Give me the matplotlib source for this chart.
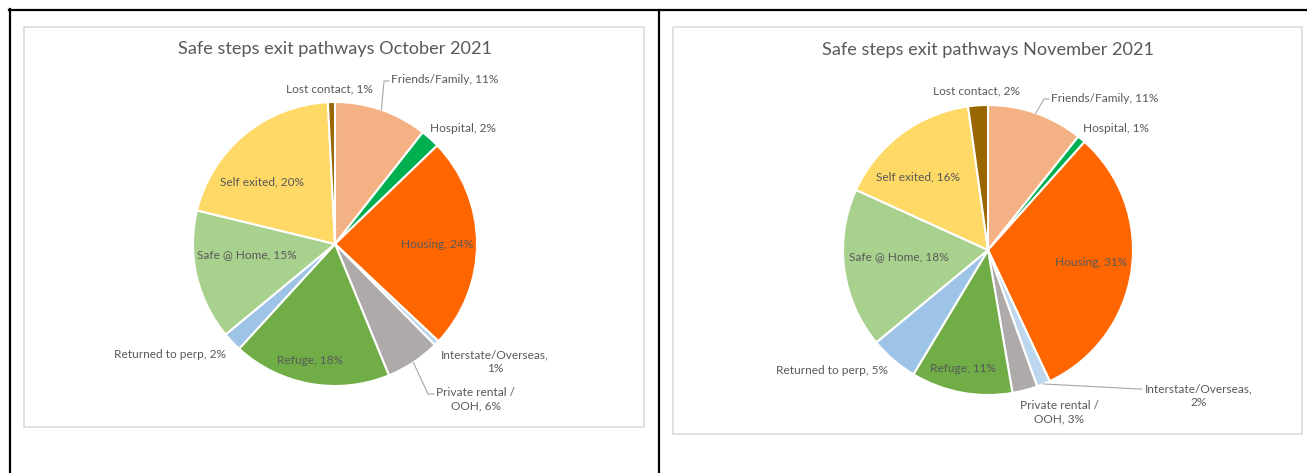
import numpy as np
import matplotlib
matplotlib.use("Agg")
import matplotlib.pyplot as plt
from matplotlib.patches import Rectangle

W, H = 1307, 473          # output size in pixels (dpi 100)

# ---- data (shares in %) ----
categories = ["Friends/Family", "Hospital", "Housing", "Interstate/Overseas",
              "Private rental / OOH", "Refuge", "Returned to perp", "Safe @ Home",
              "Self exited", "Lost contact"]
oct_share = [10.6, 2.2, 24.2, 0.6, 6.2, 18.0, 2.2, 14.8, 20.4, 0.8]
nov_share = [10.7, 0.9, 31.4, 1.5, 2.8, 11.3, 5.4, 17.8, 16.0, 2.2]
titles = ["Safe steps exit pathways October 2021", "Safe steps exit pathways November 2021"]

colors = ["#F4B183", "#00B050", "#FF6600", "#BDD7EE", "#AEAAAA",
          "#70AD47", "#9DC3E6", "#A9D18E", "#FFD966", "#996600"]
TXT = "#595959"
FONT = ["Lato", "DejaVu Sans"]

# ---- layout (image pixel coords, y from top) ----
charts = [
    dict(share=oct_share, title=titles[0], box=(24, 27, 644, 427), center=(335, 244), r=142,
         title_xy=(335, 49),
         labels={"Friends/Family": (391, 80, "left"), "Hospital": (430, 129, "left"),
                 "Housing": (437, 244, "center"), "Interstate/Overseas": (495, 362, "center"),
                 "Private rental / OOH": (476, 399, "center"), "Refuge": (310, 361, "center"),
                 "Returned to perp": (226, 354, "right"), "Safe @ Home": (247, 255, "center"),
                 "Self exited": (262, 182, "center"), "Lost contact": (329, 89, "center")},
         leaders={"Friends/Family": [(384, 81), (389, 81)],
                  "Private rental / OOH": [(428, 394), (434, 394)]}),
    dict(share=nov_share, title=titles[1], box=(673, 27, 1302, 434), center=(988, 250), r=145,
         title_xy=(988, 50),
         labels={"Friends/Family": (1051, 98, "left"), "Hospital": (1083, 128, "left"),
                 "Housing": (1091, 262, "center"), "Interstate/Overseas": (1199, 396, "center"),
                 "Private rental / OOH": (1059, 412, "center"), "Refuge": (963, 369, "center"),
                 "Returned to perp": (888, 371, "right"), "Safe @ Home": (899, 257, "center"),
                 "Self exited": (918, 177, "center"), "Lost contact": (976, 91, "center")},
         leaders={"Friends/Family": [(1044, 99), (1049, 99)],
                  "Interstate/Overseas": [(1139, 389), (1142, 389)]}),
]
wraps = {"Interstate/Overseas": (", ", ",\n"), "Private rental / OOH": ("/ ", "/\n")}


def fy(y):
    return H - y


fig = plt.figure(figsize=(W / 100, H / 100), dpi=100)
ax = fig.add_axes([0, 0, 1, 1])

for c in charts:
    x0, y0, x1, y1 = c["box"]
    ax.add_patch(Rectangle((x0, fy(y1)), x1 - x0, y1 - y0, fill=False,
                           edgecolor="#D9D9D9", lw=1.1, zorder=0))
    cx, cy = c["center"]; r = c["r"]
    ax.pie(c["share"], colors=colors, startangle=90, counterclock=False,
           center=(cx, fy(cy)), radius=r,
           wedgeprops=dict(edgecolor="white", linewidth=1.5))
    ax.text(c["title_xy"][0], fy(c["title_xy"][1]), c["title"], ha="center", va="center",
            fontsize=13.1, color=TXT, family=FONT)
    cum = np.cumsum(c["share"]) - np.array(c["share"]) / 2
    for name, val, mid in zip(categories, c["share"], cum):
        txt = f"{name}, {round(val)}%"
        if name in wraps:
            txt = txt.replace(*wraps[name])
        lx, ly, ha = c["labels"][name]
        ax.text(lx, fy(ly), txt, ha=ha, va="center", multialignment="center",
                fontsize=8.6, color=TXT, family=FONT, linespacing=1.25)
        if name in c["leaders"]:
            th = np.deg2rad(360 * mid / 100)
            pts = [(cx + r * np.sin(th), cy - r * np.cos(th))] + c["leaders"][name]
            ax.plot([p[0] for p in pts], [fy(p[1]) for p in pts], color="#A6A6A6", lw=0.8)

# black frame lines of the surrounding table
ax.plot([9, W], [fy(10), fy(10)], color="black", lw=1.6)
ax.plot([10, 10], [fy(9), 0], color="black", lw=1.6)
ax.plot([659, 659], [fy(10), 0], color="black", lw=1.6)

ax.set_xlim(0, W); ax.set_ylim(0, H)
ax.set_aspect("auto")
ax.set_axis_off()
fig.savefig("out.png", dpi=100)
